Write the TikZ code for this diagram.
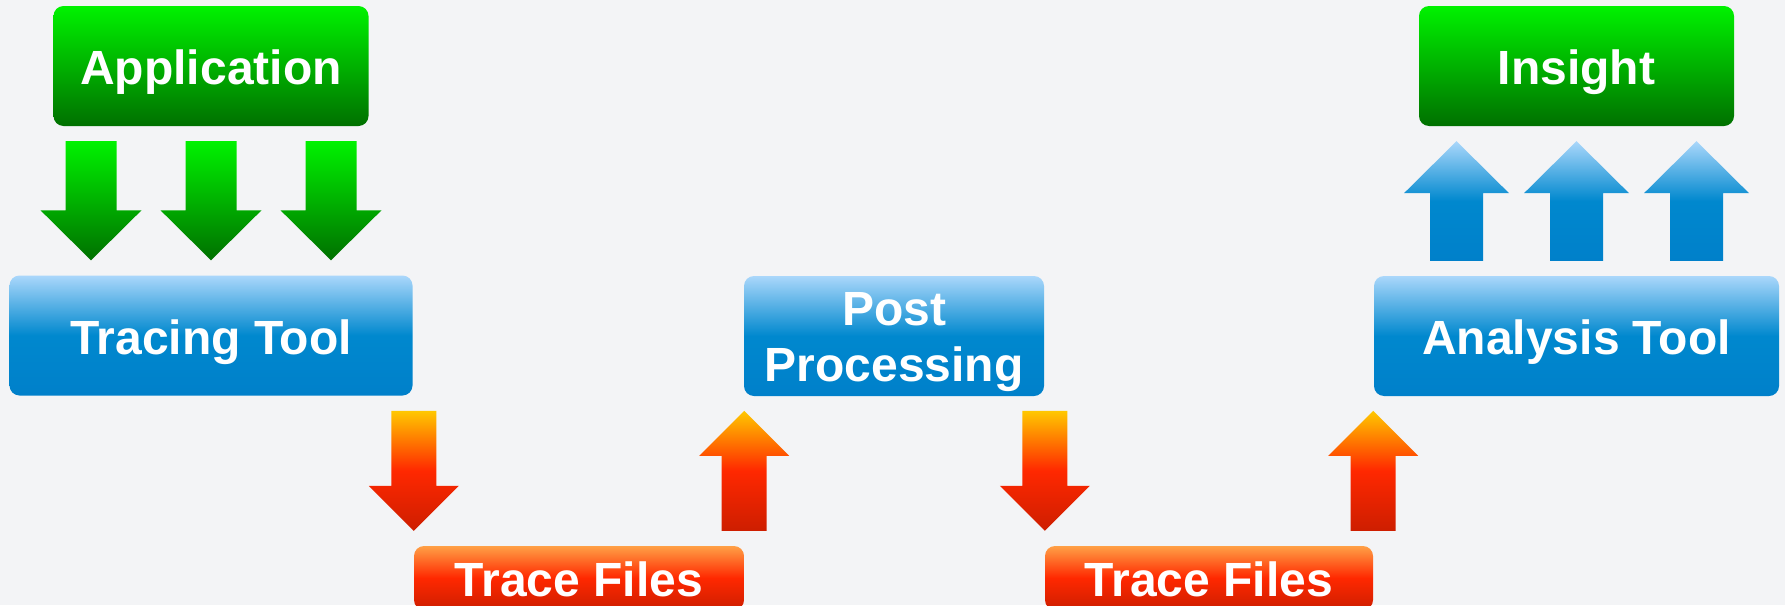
\documentclass[tikz,border=0pt]{standalone}
\usepackage{fontspec}
\setmainfont{Liberation Sans}
\usetikzlibrary{calc}

\definecolor{bgcol}{RGB}{243,244,246}
\definecolor{grntop}{RGB}{0,242,0}
\definecolor{grnbot}{RGB}{0,112,0}
\definecolor{blutop}{RGB}{170,215,251}
\definecolor{blumid}{RGB}{0,136,206}
\definecolor{blubot}{RGB}{0,128,202}
\definecolor{boxtop}{RGB}{255,160,70}
\definecolor{arrtop}{RGB}{255,200,0}
\definecolor{redmid}{RGB}{255,40,0}
\definecolor{redbot}{RGB}{205,30,0}

\tikzset{
  box/.style={rounded corners=10pt, text=white, align=center, inner sep=0pt,
    font=\fontsize{48}{56}\selectfont\bfseries},
  oneline/.style={text height=37pt, text depth=0pt},
  greenbox/.style={box, top color=grntop, bottom color=grnbot},
  bluebox/.style={box, top color=blutop, bottom color=blubot, middle color=blumid},
  redbox/.style={box, top color=boxtop, bottom color=redbot, middle color=redmid},
  greenarrow/.style={top color=grntop, bottom color=grnbot},
  bluearrow/.style={top color=blutop, bottom color=blubot, middle color=blumid},
  redarrow/.style={top color=arrtop, bottom color=redbot, middle color=redmid}
}

% block arrow: tail, tip, half shaft width, half head width, head length, shading
\newcommand{\blockarrow}[6]{%
  \coordinate (ta) at #1; \coordinate (ti) at #2;
  \coordinate (hb) at ($(ti)!#5!(ta)$);
  \shade[#6] ([xshift=-#3]ta) -- ([xshift=-#3]hb) -- ([xshift=-#4]hb) -- (ti)
    -- ([xshift=#4]hb) -- ([xshift=#3]hb) -- ([xshift=#3]ta) -- cycle;}

\begin{document}
\begin{tikzpicture}[x=1pt,y=-1pt]
\useasboundingbox (0,0) rectangle (1785,605);
\clip (0,0) rectangle (1785,605);
\fill[bgcol] (0,0) rectangle (1785,605);

%Shape: Rounded Rect (green)
\node[greenbox, oneline, minimum width=315pt, minimum height=120pt] (app) at (211,66) {Application};
\node[greenbox, oneline, minimum width=315pt, minimum height=120pt] (insight) at (1576.5,66) {Insight};
%Shape: Rounded Rect (blue)
\node[bluebox, oneline, minimum width=403pt, minimum height=120pt] (tracing) at (211,335.5) {Tracing Tool};
\node[bluebox, minimum width=300pt, minimum height=120pt] (post) at (894,336) {\rule{0pt}{46pt}Post\\Processing};
\node[bluebox, oneline, minimum width=405pt, minimum height=120pt] (analysis) at (1576.5,336) {Analysis Tool};
%Shape: Rounded Rect (red)
\node[redbox, oneline, minimum width=330pt, minimum height=64pt] (files1) at (579,578) {Trace Files};
\node[redbox, oneline, minimum width=328pt, minimum height=64pt] (files2) at (1209,578) {Trace Files};

%Block Arrows: Application -> Tracing Tool
\foreach \dx in {-120,0,120}
  \blockarrow{($(app.south)+(\dx,15)$)}{($(tracing.north)+(\dx,-15)$)}{25.5pt}{50.5pt}{50pt}{greenarrow};
%Block Arrows: Tracing Tool -> Trace Files -> Post Processing
\blockarrow{($(files1.north west)+(0,-135)$)}{($(files1.north west)+(0,-15)$)}{22.5pt}{45pt}{45pt}{redarrow};
\blockarrow{($(files1.north east)+(0,-15)$)}{($(files1.north east)+(0,-135)$)}{22.5pt}{45pt}{45pt}{redarrow};
%Block Arrows: Post Processing -> Trace Files -> Analysis Tool
\blockarrow{($(files2.north west)+(0,-135)$)}{($(files2.north west)+(0,-15)$)}{22.5pt}{45pt}{45pt}{redarrow};
\blockarrow{($(files2.north east)+(0,-15)$)}{($(files2.north east)+(0,-135)$)}{22.5pt}{45pt}{45pt}{redarrow};
%Block Arrows: Analysis Tool -> Insight
\foreach \dx in {-120,0,120}
  \blockarrow{($(analysis.north)+(\dx,-15)$)}{($(insight.south)+(\dx,15)$)}{26.5pt}{52.5pt}{52pt}{bluearrow};

\end{tikzpicture}
\end{document}
